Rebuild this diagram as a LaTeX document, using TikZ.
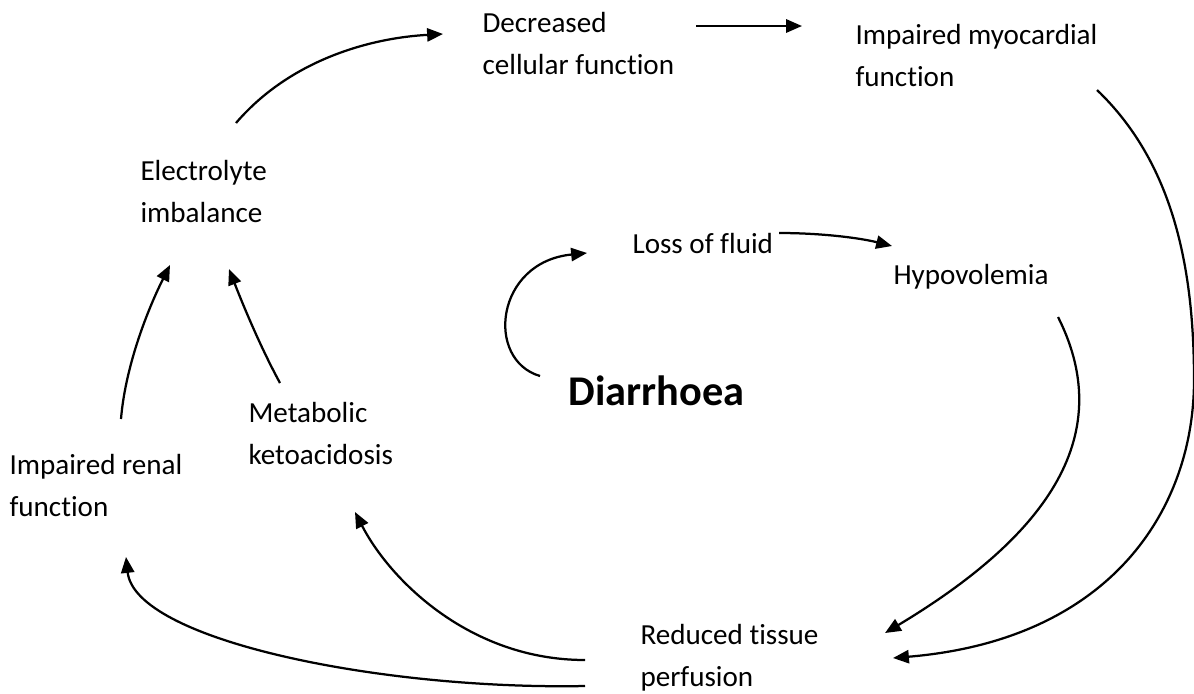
\documentclass[tikz,border=0pt]{standalone}
\usepackage{fontspec}
\setmainfont{Carlito}[Ligatures=NoCommon]
\usetikzlibrary{arrows.meta}
\begin{document}
\begin{tikzpicture}[x=0.378pt,y=-0.378pt,
  lbl/.style={inner sep=0pt, anchor=base west, font=\fontsize{11}{15.9}\selectfont},
  big/.style={inner sep=0pt, anchor=base west, font=\fontsize{16}{19}\selectfont\bfseries},
  conn/.style={line width=0.85pt, -{Triangle[length=6pt,width=5pt]}}]
\useasboundingbox (0,0) rectangle (1194,693);
% labels
\node[lbl] (dec) at (482,32) {\begin{tabular}[t]{@{}l@{}}Decreased\\cellular function\end{tabular}};
\node[lbl] (myo) at (855,44) {\begin{tabular}[t]{@{}l@{}}Impaired myocardial\\function\end{tabular}};
\node[lbl] (ele) at (140,180) {\begin{tabular}[t]{@{}l@{}}Electrolyte\\imbalance\end{tabular}};
\node[lbl] (los) at (632,253) {Loss of fluid};
\node[lbl] (hyp) at (893,284) {Hypovolemia};
\node[big] (dia) at (568,405) {Diarrhoea};
\node[lbl] (met) at (248,422) {\begin{tabular}[t]{@{}l@{}}Metabolic\\ketoacidosis\end{tabular}};
\node[lbl] (ren) at (9,474) {\begin{tabular}[t]{@{}l@{}}Impaired renal\\function\end{tabular}};
\node[lbl] (red) at (640,644) {\begin{tabular}[t]{@{}l@{}}Reduced tissue\\perfusion\end{tabular}};
% connector end points
\coordinate (eleOut) at (236,123);
\coordinate (decIn) at (443,34);
\coordinate (decOut) at (696,26);
\coordinate (myoIn) at (802,26);
\coordinate (myoOut) at (1097,90);
\coordinate (redInA) at (893,658);
\coordinate (hypOut) at (1058,317);
\coordinate (redInB) at (885,633);
\coordinate (losOut) at (779,233);
\coordinate (hypIn) at (892,246);
\coordinate (diaOut) at (540,376);
\coordinate (losIn) at (587,253);
\coordinate (metOut) at (280,383);
\coordinate (eleInA) at (229,269);
\coordinate (renOut) at (121,419);
\coordinate (eleInB) at (170,265);
\coordinate (redOutA) at (585,660);
\coordinate (metIn) at (355,512);
\coordinate (redOutB) at (585,686);
\coordinate (renIn) at (126,557);
% connectors
\draw[conn] (eleOut) .. controls (290,60) and (370,38) .. (decIn);
\draw[conn] (decOut) -- (myoIn);
\draw[conn] (myoOut) .. controls (1170,160) and (1194,260) .. (1194,380)
                      .. controls (1194,510) and (1110,640) .. (redInA);
\draw[conn] (hypOut) .. controls (1120,440) and (1040,540) .. (redInB);
\draw[conn] (losOut) .. controls (822,233) and (860,238) .. (hypIn);
\draw[conn] (diaOut) .. controls (485,360) and (495,262) .. (losIn);
\draw[conn] (metOut) .. controls (262,350) and (245,310) .. (eleInA);
\draw[conn] (renOut) .. controls (125,370) and (145,315) .. (eleInB);
\draw[conn] (redOutA) .. controls (470,660) and (390,580) .. (metIn);
\draw[conn] (redOutB) .. controls (380,690) and (135,640) .. (renIn);
\end{tikzpicture}
\end{document}
